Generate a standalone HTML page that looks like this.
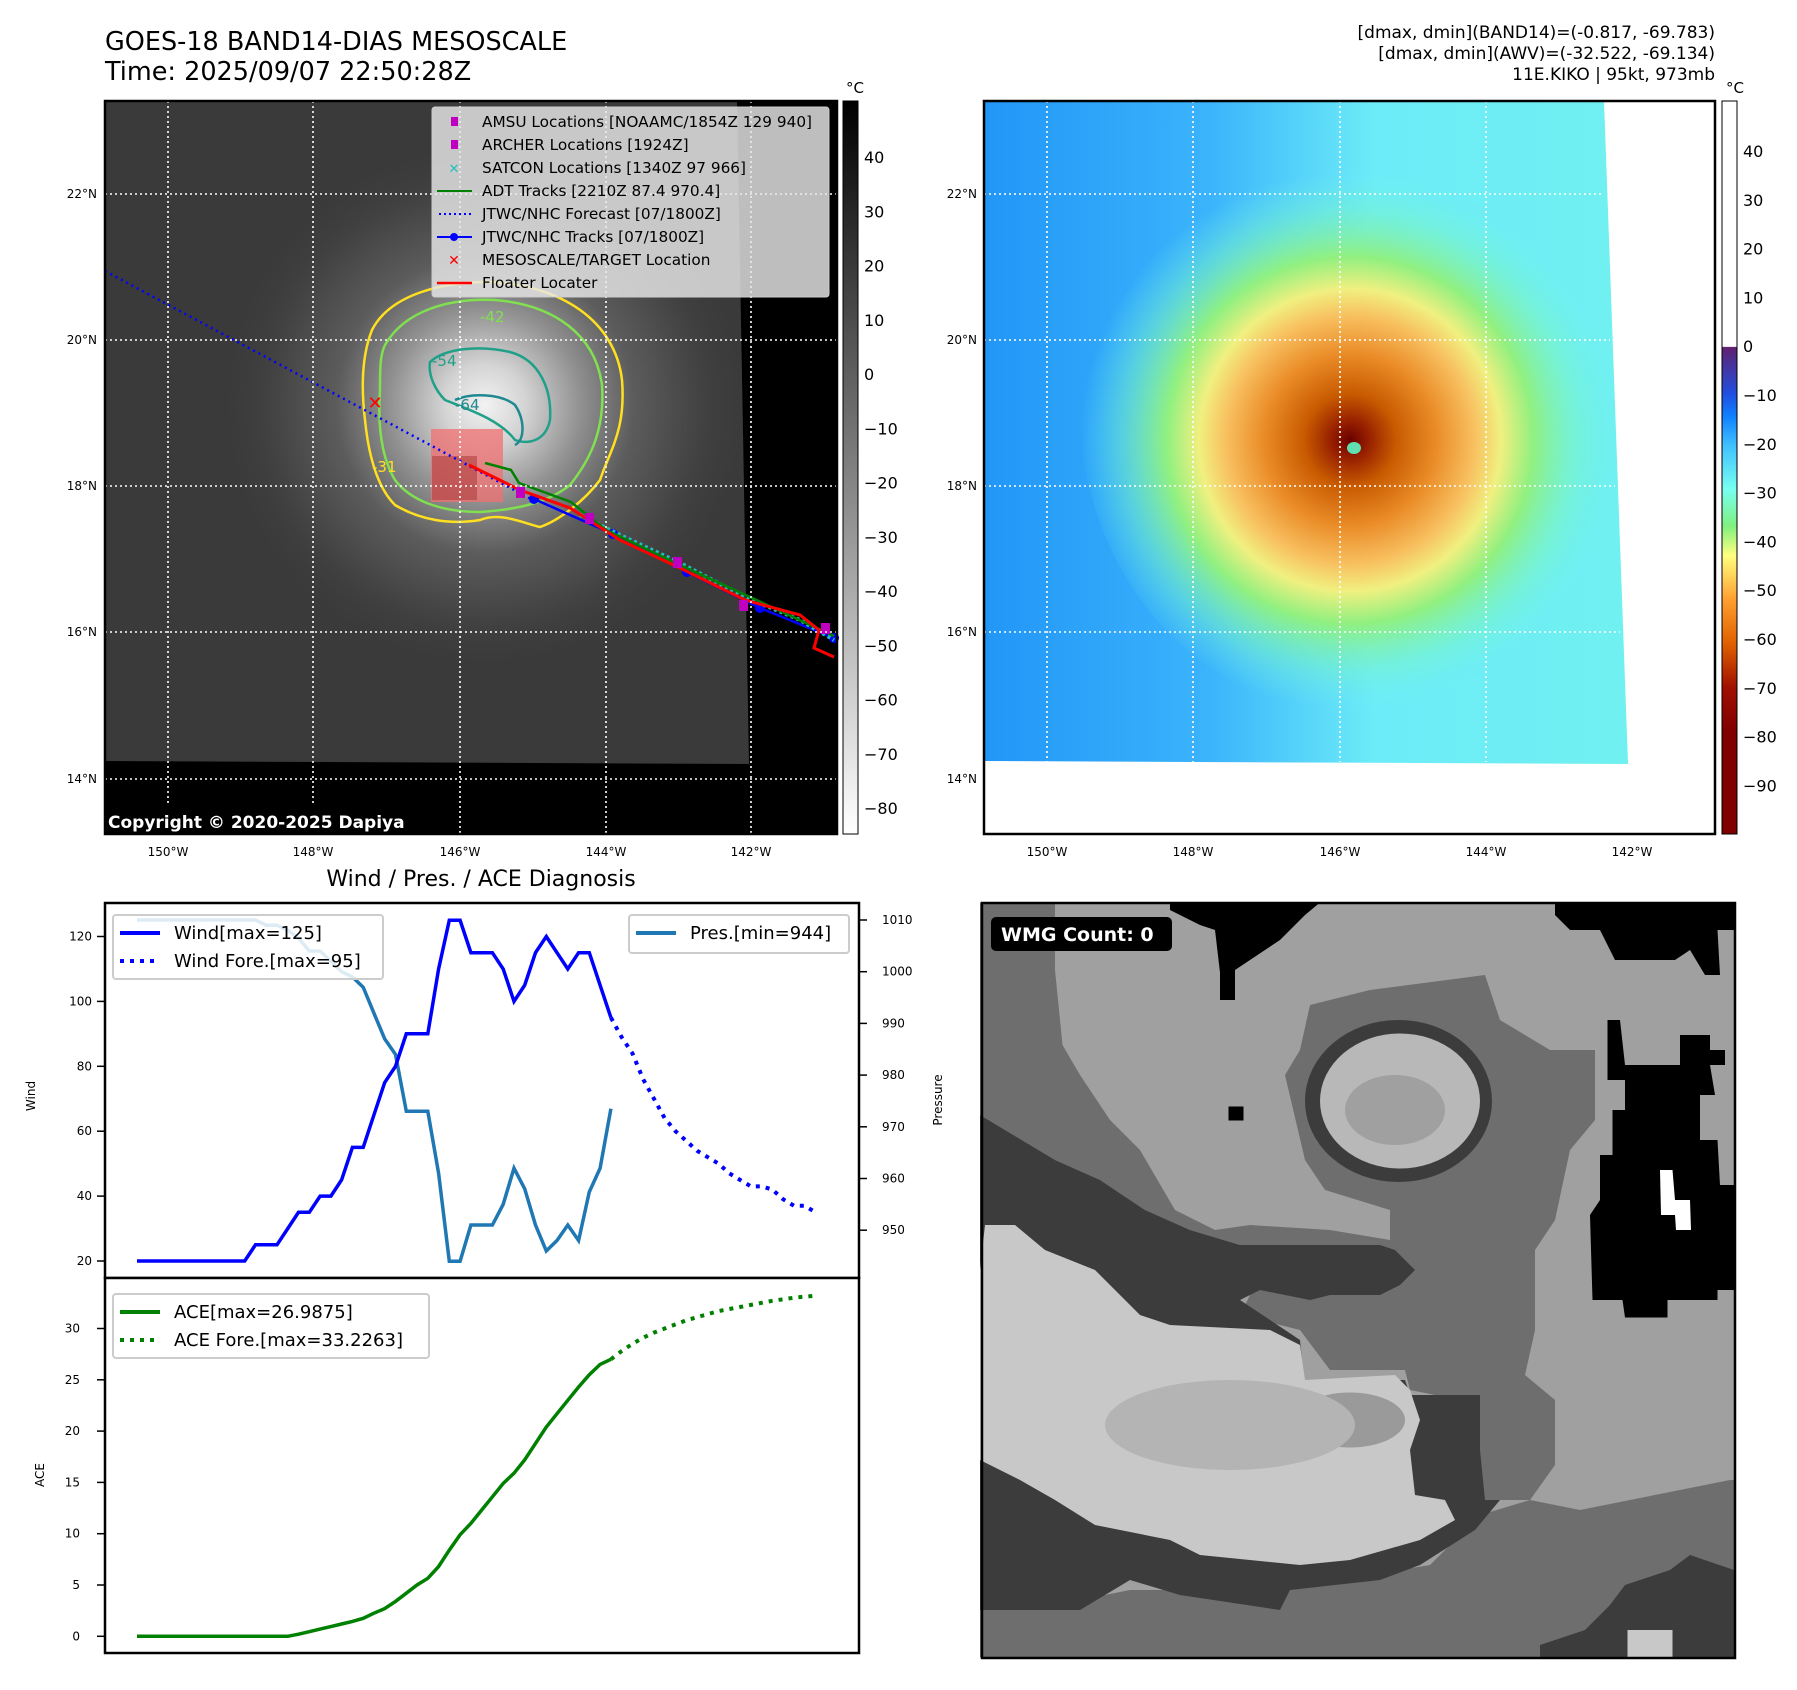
<!DOCTYPE html>
<html><head><meta charset="utf-8">
<style>
html,body{margin:0;padding:0;background:#fff;}
svg{display:block;font-family:"DejaVu Sans","Liberation Sans",sans-serif;}
</style></head>
<body>
<svg id="root" width="1797" height="1690" viewBox="0 0 1797 1690" xmlns="http://www.w3.org/2000/svg">
<defs>
  <radialGradient id="irStorm" cx="485" cy="405" r="270" gradientUnits="userSpaceOnUse">
    <stop offset="0" stop-color="#f2f2f2"/>
    <stop offset="0.15" stop-color="#d4d4d4"/>
    <stop offset="0.35" stop-color="#929292"/>
    <stop offset="0.55" stop-color="#5c5c5c"/>
    <stop offset="0.8" stop-color="#424242"/>
    <stop offset="1" stop-color="#3a3a3a" stop-opacity="0"/>
  </radialGradient>
  <linearGradient id="awvBase" x1="0" y1="0" x2="1" y2="0">
    <stop offset="0" stop-color="#2196f7"/>
    <stop offset="0.35" stop-color="#3cb4fb"/>
    <stop offset="0.6" stop-color="#6cecf8"/>
    <stop offset="1" stop-color="#70f0f0"/>
  </linearGradient>
  <radialGradient id="awvStorm" cx="1350" cy="440" r="270" gradientUnits="userSpaceOnUse">
    <stop offset="0" stop-color="#6a0000"/>
    <stop offset="0.07" stop-color="#982000"/>
    <stop offset="0.17" stop-color="#c85a00"/>
    <stop offset="0.32" stop-color="#ea8c28"/>
    <stop offset="0.46" stop-color="#f8c060"/>
    <stop offset="0.56" stop-color="#f0f080"/>
    <stop offset="0.68" stop-color="#90f080"/>
    <stop offset="0.85" stop-color="#78f4c8" stop-opacity="0.5"/>
    <stop offset="1" stop-color="#70f0f0" stop-opacity="0"/>
  </radialGradient>
  <linearGradient id="cbGray" x1="0" y1="0" x2="0" y2="1">
    <stop offset="0" stop-color="#000"/>
    <stop offset="1" stop-color="#fff"/>
  </linearGradient>
  <linearGradient id="cbColor" x1="0" y1="101" x2="0" y2="834" gradientUnits="userSpaceOnUse">
    <stop offset="0" stop-color="#fff"/>
    <stop offset="0.335" stop-color="#fff"/>
    <stop offset="0.336" stop-color="#602070"/>
    <stop offset="0.4" stop-color="#2050e0"/>
    <stop offset="0.43" stop-color="#1080ff"/>
    <stop offset="0.47" stop-color="#40c0ff"/>
    <stop offset="0.53" stop-color="#78fff0"/>
    <stop offset="0.58" stop-color="#80f080"/>
    <stop offset="0.62" stop-color="#ffff80"/>
    <stop offset="0.68" stop-color="#ffa030"/>
    <stop offset="0.74" stop-color="#e06000"/>
    <stop offset="0.8" stop-color="#a01000"/>
    <stop offset="0.86" stop-color="#800000"/>
    <stop offset="1" stop-color="#800000"/>
  </linearGradient>
  <clipPath id="irClip"><polygon points="105,101 737,101 749,764 105,761"/></clipPath>
  <clipPath id="awvClip"><polygon points="984,101 1604,101 1628,764 984,761"/></clipPath>
</defs>

<!-- ======== Titles ======== -->
<text x="105" y="50" font-size="25.5">GOES-18 BAND14-DIAS MESOSCALE</text>
<text x="105" y="80" font-size="25.5">Time: 2025/09/07 22:50:28Z</text>
<g font-size="17" text-anchor="end">
  <text x="1715" y="38">[dmax, dmin](BAND14)=(-0.817, -69.783)</text>
  <text x="1715" y="59">[dmax, dmin](AWV)=(-32.522, -69.134)</text>
  <text x="1715" y="80">11E.KIKO | 95kt, 973mb</text>
</g>

<!-- ======== IR map ======== -->
<g>
  <rect x="105" y="101" width="732" height="733" fill="#000"/>
  <g clip-path="url(#irClip)">
    <rect x="105" y="101" width="650" height="665" fill="#3a3a3a"/>
    <ellipse cx="485" cy="405" rx="290" ry="280" fill="url(#irStorm)"/>
  </g>
  <path d="M372,330 C390,295 440,282 490,282 C560,285 615,320 622,380 C626,430 610,450 600,480 C585,500 560,520 540,527 C520,522 500,512 480,520 C450,525 420,520 395,505 C375,485 368,450 365,420 C362,395 360,360 372,330Z" fill="none" stroke="#ffe020" stroke-width="2.5"/>
  <path d="M385,345 C405,310 450,298 495,300 C555,305 595,335 602,385 C605,430 590,460 570,485 C545,505 510,510 480,512 C440,512 410,500 395,480 C380,455 378,420 380,390 C380,370 380,355 385,345Z" fill="none" stroke="#80e050" stroke-width="2.5"/>
  <path d="M430,362 C445,348 480,345 510,352 C540,360 552,390 550,420 C546,440 530,445 515,440 C500,420 470,410 445,400 C435,390 428,375 430,362Z" fill="none" stroke="#20a088" stroke-width="2.5"/>
  <path d="M455,400 C470,393 500,393 515,405 C525,420 525,440 515,445" fill="none" stroke="#208890" stroke-width="2.5"/>
  <text x="432" y="366" font-size="15" fill="#20a088">-54</text>
  <text x="455" y="410" font-size="15" fill="#208890">-64</text>
  <text x="372" y="472" font-size="15" fill="#ffe020">-31</text>
  <text x="480" y="322" font-size="15" fill="#80e050">-42</text>
  <rect x="431" y="429" width="72" height="73" fill="#f07070" opacity="0.75"/>
  <rect x="432" y="456" width="45" height="44" fill="#b04040" opacity="0.6"/>
  <line x1="105" y1="271" x2="531" y2="499" stroke="#0000ff" stroke-width="2.5" stroke-dasharray="2,4"/>
  <polyline points="534,499 613,534 687,572 760,608 834,638" fill="none" stroke="#0000ff" stroke-width="2.5"/>
  <g fill="#0000ff">
    <circle cx="534" cy="499" r="5"/><circle cx="613" cy="534" r="5"/><circle cx="687" cy="572" r="5"/><circle cx="760" cy="608" r="5"/><circle cx="834" cy="638" r="5"/>
  </g>
  <polyline points="580,515 620,535 680,563 745,597 800,620 834,640" fill="none" stroke="#20c0c0" stroke-width="4" stroke-dasharray="3,3"/>
  <polyline points="485,463 511,470 519,483 571,502 606,530 680,565 750,597 834,636" fill="none" stroke="#008000" stroke-width="2.5"/>
  <polyline points="469,465 520,490 570,508 620,540 680,568 745,600 800,615 819,630 814,648 834,657" fill="none" stroke="#ff0000" stroke-width="3"/>
  <g fill="#c000c0">
    <rect x="516" y="487" width="9" height="11"/><rect x="585" y="513" width="9" height="11"/><rect x="673" y="557" width="9" height="11"/><rect x="739" y="600" width="9" height="11"/><rect x="821" y="623" width="9" height="11"/>
  </g>
  <text x="375" y="409" font-size="18" font-weight="bold" fill="#ff0000" text-anchor="middle">✕</text>
  <g stroke="#fff" stroke-width="1.6" stroke-dasharray="2,3">
    <line x1="168" y1="101" x2="168" y2="834"/><line x1="313" y1="101" x2="313" y2="834"/><line x1="460" y1="101" x2="460" y2="834"/><line x1="606" y1="101" x2="606" y2="834"/><line x1="751" y1="101" x2="751" y2="834"/>
    <line x1="105" y1="194" x2="837" y2="194"/><line x1="105" y1="340" x2="837" y2="340"/><line x1="105" y1="486" x2="837" y2="486"/><line x1="105" y1="632" x2="837" y2="632"/><line x1="105" y1="779" x2="837" y2="779"/>
  </g>
  <rect x="105" y="101" width="732" height="733" fill="none" stroke="#000" stroke-width="2.5"/>
  <g>
    <rect x="432" y="107" width="397" height="190" rx="3" fill="#e8e8e8" fill-opacity="0.82" stroke="#ccc"/>
    <g font-size="15.3">
      <rect x="451" y="117" width="7" height="9" fill="#c000c0"/><text x="482" y="127">AMSU Locations [NOAAMC/1854Z 129 940]</text>
      <rect x="451" y="140" width="7" height="9" fill="#c000c0"/><text x="482" y="150">ARCHER Locations [1924Z]</text>
      <text x="454" y="173" font-size="13" font-weight="bold" fill="#20c0c0" text-anchor="middle">✕</text><text x="482" y="173">SATCON Locations [1340Z 97 966]</text>
      <line x1="437" y1="191" x2="472" y2="191" stroke="#008000" stroke-width="2"/><text x="482" y="196">ADT Tracks [2210Z 87.4 970.4]</text>
      <line x1="439" y1="214" x2="472" y2="214" stroke="#0000ff" stroke-width="2" stroke-dasharray="2,3"/><text x="482" y="219">JTWC/NHC Forecast [07/1800Z]</text>
      <line x1="437" y1="237" x2="472" y2="237" stroke="#0000ff" stroke-width="2"/><circle cx="454" cy="237" r="4" fill="#0000ff"/><text x="482" y="242">JTWC/NHC Tracks [07/1800Z]</text>
      <text x="454" y="265" font-size="14" font-weight="bold" fill="#ff0000" text-anchor="middle">✕</text><text x="482" y="265">MESOSCALE/TARGET Location</text>
      <line x1="437" y1="283" x2="472" y2="283" stroke="#ff0000" stroke-width="2.5"/><text x="482" y="288">Floater Locater</text>
    </g>
  </g>
  <rect x="105" y="805" width="312" height="30" rx="3" fill="#000"/>
  <text x="108" y="828" font-size="17" font-weight="bold" fill="#fff">Copyright © 2020-2025 Dapiya</text>
</g>

<g font-size="12">
  <g text-anchor="end"><text x="97" y="198">22°N</text><text x="97" y="344">20°N</text><text x="97" y="490">18°N</text><text x="97" y="636">16°N</text><text x="97" y="783">14°N</text></g>
  <g text-anchor="middle"><text x="168" y="856">150°W</text><text x="313" y="856">148°W</text><text x="460" y="856">146°W</text><text x="606" y="856">144°W</text><text x="751" y="856">142°W</text></g>
</g>

<g>
  <text x="855" y="93" font-size="15" text-anchor="middle">°C</text>
  <rect x="843" y="101" width="15" height="733" fill="url(#cbGray)" stroke="#000" stroke-width="1"/>
  <g id="cb1ticks" font-size="16"></g>
</g>

<!-- ======== AWV map ======== -->
<g>
  <rect x="984" y="101" width="731" height="733" fill="#fff"/>
  <g clip-path="url(#awvClip)">
    <rect x="984" y="101" width="650" height="665" fill="url(#awvBase)"/>
    <ellipse cx="1370" cy="410" rx="290" ry="310" fill="url(#awvStorm)"/>
    <ellipse cx="1354" cy="448" rx="7" ry="6" fill="#60e0b0"/>
  </g>
  <g stroke="#fff" stroke-width="1.6" stroke-dasharray="2,3">
    <line x1="1047" y1="101" x2="1047" y2="762"/><line x1="1193" y1="101" x2="1193" y2="762"/><line x1="1340" y1="101" x2="1340" y2="762"/><line x1="1486" y1="101" x2="1486" y2="762"/>
    <line x1="984" y1="194" x2="1604" y2="194"/><line x1="984" y1="340" x2="1610" y2="340"/><line x1="984" y1="486" x2="1615" y2="486"/><line x1="984" y1="632" x2="1620" y2="632"/>
  </g>
  <rect x="984" y="101" width="731" height="733" fill="none" stroke="#000" stroke-width="2.5"/>
</g>
<g font-size="12">
  <g text-anchor="end"><text x="977" y="198">22°N</text><text x="977" y="344">20°N</text><text x="977" y="490">18°N</text><text x="977" y="636">16°N</text><text x="977" y="783">14°N</text></g>
  <g text-anchor="middle"><text x="1047" y="856">150°W</text><text x="1193" y="856">148°W</text><text x="1340" y="856">146°W</text><text x="1486" y="856">144°W</text><text x="1632" y="856">142°W</text></g>
</g>
<g>
  <text x="1735" y="93" font-size="15" text-anchor="middle">°C</text>
  <rect x="1722" y="101" width="15" height="733" fill="url(#cbColor)" stroke="#000" stroke-width="1"/>
  <g id="cb2ticks" font-size="16"></g>
</g>

<!-- ======== Wind / Pres / ACE chart ======== -->
<text x="481" y="886" font-size="22" text-anchor="middle">Wind / Pres. / ACE Diagnosis</text>
<g id="windChart">
  <rect x="105" y="903" width="754" height="375" fill="#fff" stroke="#000" stroke-width="2.5"/>
</g>
<g id="aceChart">
  <rect x="105" y="1278" width="754" height="375" fill="#fff" stroke="#000" stroke-width="2.5"/>
</g>
<text transform="translate(35,1096) rotate(-90)" font-size="12" text-anchor="middle">Wind</text>
<text transform="translate(942,1100) rotate(-90)" font-size="12" text-anchor="middle">Pressure</text>
<text transform="translate(44,1475) rotate(-90)" font-size="12" text-anchor="middle">ACE</text>

<!-- ======== WMG panel ======== -->
<g>
  <g transform="translate(980,900) scale(0.5)">
    <rect x="2" y="5" width="1506" height="1510" fill="#a0a0a0"/>
    <polygon fill="#6e6e6e" points="0,5 150,5 150,140 165,290 200,350 260,440 320,500 390,620 470,660 540,650 700,660 820,680 820,700 520,690 420,660 330,620 240,560 150,520 0,430"/>
    <polygon fill="#6e6e6e" points="660,210 780,180 1010,150 1040,240 1140,300 1230,300 1230,440 1180,500 1150,640 1110,700 1110,860 1090,950 1150,1000 1150,1130 1100,1200 1000,1200 960,1000 860,980 850,940 700,940 640,860 520,830 550,770 700,760 820,720 820,620 690,580 650,520 610,350 640,300"/>
    <polygon fill="#6e6e6e" points="0,1420 200,1400 300,1380 600,1380 900,1330 1000,1230 1100,1200 1200,1220 1500,1160 1508,1160 1508,1515 0,1515"/>
    <ellipse cx="837" cy="402" rx="187" ry="162" fill="#3c3c3c"/>
    <ellipse cx="840" cy="402" rx="160" ry="135" fill="#b8b8b8"/>
    <ellipse cx="830" cy="420" rx="100" ry="70" fill="#a0a0a0"/>
    <polygon fill="#3c3c3c" points="0,430 150,520 240,560 330,620 420,660 520,690 800,690 830,700 870,740 840,770 800,790 700,790 660,800 560,780 520,800 640,880 650,980 720,960 850,960 860,990 1000,990 1000,1100 1010,1200 1040,1200 990,1260 880,1330 800,1360 620,1380 600,1420 400,1390 300,1360 200,1420 0,1420"/>
    <polygon fill="#c8c8c8" points="10,650 70,650 130,700 230,740 280,790 320,830 380,850 580,860 640,890 650,960 830,950 860,980 880,1040 860,1100 870,1190 930,1200 950,1240 880,1280 740,1320 640,1330 440,1310 380,1280 230,1250 150,1200 80,1160 0,1120 0,740"/>
    <ellipse cx="740" cy="1040" rx="110" ry="55" fill="#9a9a9a"/>
    <ellipse cx="500" cy="1050" rx="250" ry="90" fill="#b4b4b4"/>
    <polygon fill="#000" points="380,5 680,5 650,30 600,80 540,120 510,140 510,200 480,200 480,145 470,60 440,50 380,20"/>
    <polygon fill="#000" points="1150,5 1508,5 1508,60 1475,60 1480,150 1450,150 1420,100 1390,120 1270,120 1240,60 1180,60 1150,30"/>
    <polygon fill="#000" points="1255,240 1280,240 1290,330 1400,330 1400,270 1460,270 1460,300 1490,300 1490,330 1460,330 1470,390 1440,390 1440,480 1475,480 1480,570 1508,570 1508,780 1475,780 1475,800 1375,800 1375,835 1290,835 1285,800 1225,800 1220,630 1240,600 1240,510 1265,510 1265,420 1290,420 1290,360 1255,360"/>
    <polygon fill="#fff" points="1360,540 1385,540 1390,600 1420,600 1422,660 1392,660 1390,630 1362,630"/>
    <rect x="497" y="413" width="30" height="28" fill="#000"/>
    <polygon fill="#3c3c3c" points="1508,1340 1420,1310 1380,1340 1290,1370 1260,1410 1210,1460 1120,1490 1120,1515 1508,1515"/>
    <rect x="1295" y="1460" width="90" height="55" fill="#c8c8c8"/>
  </g>
  <rect x="982" y="903" width="753" height="755" fill="none" stroke="#000" stroke-width="2.5"/>
  <rect x="991" y="917" width="181" height="34" rx="5" fill="#000"/>
  <text x="1001" y="941" font-size="19" font-weight="bold" fill="#fff">WMG Count: 0</text>
</g>

<script>
// ---- chart data ----
const windObs = [20,20,20,20,20,20,20,20,20,20,20,25,25,25,30,35,35,40,40,45,55,55,65,75,80,90,90,90,110,125,125,115,115,115,110,100,105,115,120,115,110,115,115,105,95];
const windFore = [95,89,84,76,70,64,60,57,54,52,50,47,45,43,43,42,39,37,37,35];
const presObs = [1010,1010,1010,1010,1010,1010,1010,1010,1010,1010,1010,1010,1009,1009,1008,1006.5,1004,1004,1002,1000,999,997,992,987,984,973,973,973,961,944,944,951,951,951,955,962,958,951,946,948,951,948,957.4,962,973.5];
const aceObs = [0,0,0,0,0,0,0,0,0,0,0,0,0,0,0,0.2,0.45,0.7,0.95,1.2,1.45,1.75,2.25,2.7,3.4,4.2,5.0,5.65,6.8,8.4,9.9,11,12.3,13.6,14.9,15.9,17.2,18.8,20.4,21.7,23,24.3,25.5,26.5,27.0];
const aceFore = [27.0,27.8,28.5,29.1,29.6,30.0,30.4,30.8,31.1,31.4,31.7,31.9,32.1,32.3,32.5,32.7,32.85,33.0,33.1,33.2];
const windTicks = [20,40,60,80,100,120];
const presTicks = [950,960,970,980,990,1000,1010];
const aceTicks = [0,5,10,15,20,25,30];
const irCbTicks = [40,30,20,10,0,-10,-20,-30,-40,-50,-60,-70,-80];
const awvCbTicks = [40,30,20,10,0,-10,-20,-30,-40,-50,-60,-70,-80,-90];

// ---- scales ----
const xS = i => 137 + i * 10.77;
const yWind = w => 1261 - (w - 20) * 3.245;
const yPres = p => 920 + (1010 - p) * 5.17;
const yAce = a => 1636.3 - a * 10.26;
const yCb1 = v => 157 + (40 - v) * 5.425;
const yCb2 = v => 151 + (40 - v) * 4.88;

const NS = 'http://www.w3.org/2000/svg';
function mk(tag, parent) { const e = document.createElementNS(NS, tag); parent.appendChild(e); return e; }
function pts(arr, off, ys) { return arr.map((v, i) => xS(i + off).toFixed(1) + ',' + ys(v).toFixed(1)).join(' '); }

const wc = document.getElementById('windChart');
const ac = document.getElementById('aceChart');

windTicks.forEach(t => {
  const l = mk('line', wc);
  l.setAttribute('x1', 97); l.setAttribute('x2', 105); l.setAttribute('y1', yWind(t)); l.setAttribute('y2', yWind(t));
  l.setAttribute('stroke', '#000'); l.setAttribute('stroke-width', 1.5);
  
  
  const tx = mk('text', wc);
  tx.setAttribute('x', 92); tx.setAttribute('y', yWind(t) + 4); tx.setAttribute('font-size', 12); tx.setAttribute('text-anchor', 'end');
  tx.textContent = t;
  
  
});
presTicks.forEach(t => {
  const l = mk('line', wc);
  l.setAttribute('x1', 859); l.setAttribute('x2', 867); l.setAttribute('y1', yPres(t)); l.setAttribute('y2', yPres(t));
  l.setAttribute('stroke', '#000'); l.setAttribute('stroke-width', 1.5);
  
  
  const tx = mk('text', wc);
  tx.setAttribute('x', 882); tx.setAttribute('y', yPres(t) + 4); tx.setAttribute('font-size', 12);
  tx.textContent = t;
  
  
});
aceTicks.forEach(t => {
  const l = mk('line', ac);
  l.setAttribute('x1', 97); l.setAttribute('x2', 105); l.setAttribute('y1', yAce(t)); l.setAttribute('y2', yAce(t));
  l.setAttribute('stroke', '#000'); l.setAttribute('stroke-width', 1.5);
  
  
  const tx = mk('text', ac);
  tx.setAttribute('x', 80); tx.setAttribute('y', yAce(t) + 4); tx.setAttribute('font-size', 12); tx.setAttribute('text-anchor', 'end');
  tx.textContent = t;
  
  
});

let p = mk('polyline', wc);
p.setAttribute('points', pts(presObs, 0, yPres)); p.setAttribute('fill', 'none'); p.setAttribute('stroke', '#1f77b4'); p.setAttribute('stroke-width', 3.5);


p = mk('polyline', wc);
p.setAttribute('points', pts(windObs, 0, yWind)); p.setAttribute('fill', 'none'); p.setAttribute('stroke', '#0000ff'); p.setAttribute('stroke-width', 3.5);


p = mk('polyline', wc);
p.setAttribute('points', pts(windFore, windObs.length - 1, yWind)); p.setAttribute('fill', 'none'); p.setAttribute('stroke', '#0000ff'); p.setAttribute('stroke-width', 4); p.setAttribute('stroke-dasharray', '4,6');


p = mk('polyline', ac);
p.setAttribute('points', pts(aceObs, 0, yAce)); p.setAttribute('fill', 'none'); p.setAttribute('stroke', '#008000'); p.setAttribute('stroke-width', 3.5);


p = mk('polyline', ac);
p.setAttribute('points', pts(aceFore, aceObs.length - 1, yAce)); p.setAttribute('fill', 'none'); p.setAttribute('stroke', '#008000'); p.setAttribute('stroke-width', 4); p.setAttribute('stroke-dasharray', '4,6');



function legend(parent, x, y, w, h, items, name) {
  const g = mk('g', parent);
  
  
  const r = mk('rect', g);
  r.setAttribute('x', x); r.setAttribute('y', y); r.setAttribute('width', w); r.setAttribute('height', h);
  r.setAttribute('rx', 3); r.setAttribute('fill', '#fff'); r.setAttribute('fill-opacity', 0.85); r.setAttribute('stroke', '#ccc'); r.setAttribute('stroke-width', 2);
  items.forEach((it, i) => {
    const cy = y + 18 + i * 28;
    const l = mk('line', g);
    l.setAttribute('x1', x + 7); l.setAttribute('x2', x + 47); l.setAttribute('y1', cy); l.setAttribute('y2', cy);
    l.setAttribute('stroke', it.c); l.setAttribute('stroke-width', 4);
    if (it.d) l.setAttribute('stroke-dasharray', '4,6');
    const t = mk('text', g);
    t.setAttribute('x', x + 61); t.setAttribute('y', cy + 6); t.setAttribute('font-size', 18);
    t.textContent = it.t;
  });
}
legend(wc, 113, 915, 270, 64, [{c:'#0000ff', t:'Wind[max=125]'}, {c:'#0000ff', d:1, t:'Wind Fore.[max=95]'}], 'wind-legend');
legend(wc, 629, 915, 220, 38, [{c:'#1f77b4', t:'Pres.[min=944]'}], 'pressure-legend');
legend(ac, 113, 1294, 316, 64, [{c:'#008000', t:'ACE[max=26.9875]'}, {c:'#008000', d:1, t:'ACE Fore.[max=33.2263]'}], 'ace-legend');

const cb1 = document.getElementById('cb1ticks');
irCbTicks.forEach(v => {
  const t = mk('text', cb1);
  t.setAttribute('x', 864); t.setAttribute('y', yCb1(v) + 6);
  t.textContent = v < 0 ? '\u2212' + Math.abs(v) : v;
  
  
});
const cb2 = document.getElementById('cb2ticks');
awvCbTicks.forEach(v => {
  const t = mk('text', cb2);
  t.setAttribute('x', 1743); t.setAttribute('y', yCb2(v) + 6);
  t.textContent = v < 0 ? '\u2212' + Math.abs(v) : v;
  
  
});
</script>
</svg>
</body></html>
